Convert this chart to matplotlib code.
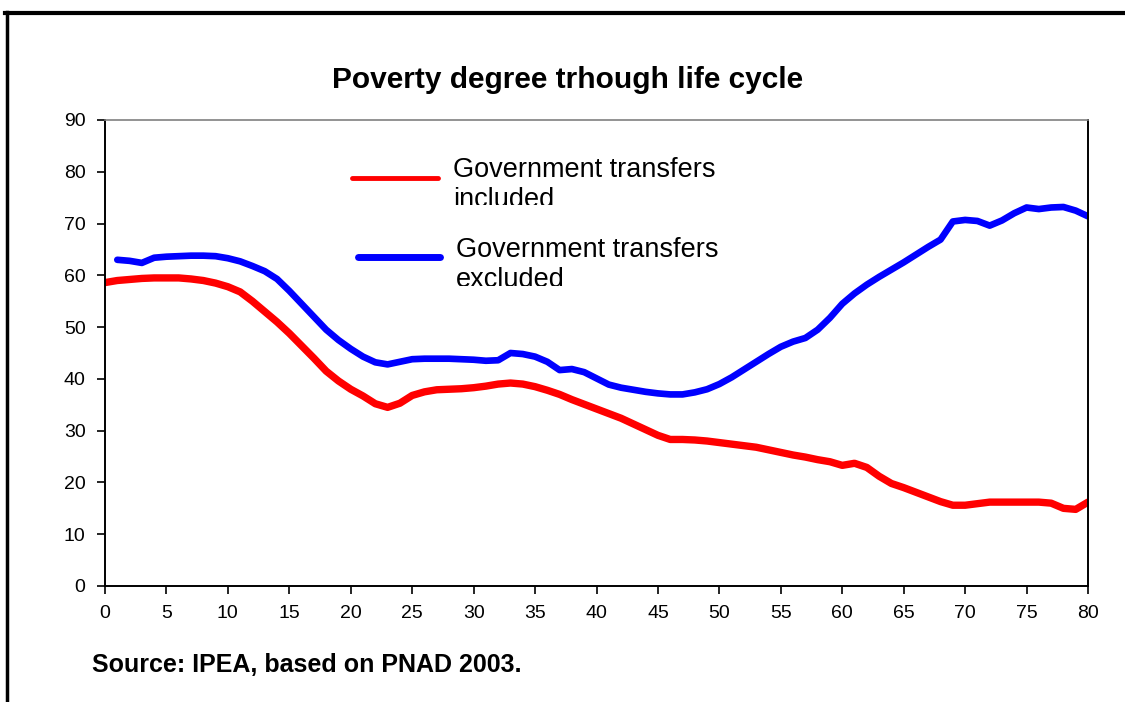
import matplotlib
matplotlib.use("Agg")
import matplotlib.pyplot as plt
from matplotlib.lines import Line2D
from matplotlib.transforms import Bbox, TransformedBbox

plt.rcParams['font.family'] = ['Liberation Sans', 'DejaVu Sans']

title = "Poverty degree trhough life cycle"
source = "Source: IPEA, based on PNAD 2003."
label_incl = ["Government transfers", "included"]
label_excl = ["Government transfers", "excluded"]

ages_incl = list(range(0, 81))
incl = [58.6, 59.0, 59.2, 59.4, 59.5, 59.5, 59.5, 59.3, 59.0, 58.5,
        57.8, 56.8, 55.0, 53.0, 51.0, 48.8, 46.4, 44.0, 41.5, 39.6,
        38.0, 36.7, 35.2, 34.5, 35.3, 36.8, 37.5, 37.9, 38.0, 38.1,
        38.3, 38.6, 39.0, 39.2, 39.0, 38.5, 37.8, 37.0, 36.0, 35.1,
        34.2, 33.3, 32.4, 31.3, 30.2, 29.1, 28.3, 28.3, 28.2, 28.0,
        27.7, 27.4, 27.1, 26.8, 26.3, 25.8, 25.3, 24.9, 24.4, 24.0,
        23.3, 23.7, 22.9, 21.2, 19.8, 19.0, 18.1, 17.2, 16.3, 15.6,
        15.6, 15.9, 16.2, 16.2, 16.2, 16.2, 16.2, 16.0, 15.0, 14.8,
        16.2]

ages_excl = list(range(1, 81))
excl = [63.0, 62.8, 62.4, 63.4, 63.6, 63.7, 63.8, 63.8, 63.7,
        63.3, 62.7, 61.8, 60.8, 59.3, 57.0, 54.5, 52.0, 49.5, 47.5,
        45.8, 44.3, 43.2, 42.8, 43.3, 43.8, 43.9, 43.9, 43.9, 43.8,
        43.7, 43.5, 43.6, 45.0, 44.8, 44.3, 43.3, 41.7, 41.9, 41.3,
        40.1, 38.9, 38.3, 37.9, 37.5, 37.2, 37.0, 37.0, 37.4, 38.0,
        39.0, 40.3, 41.8, 43.3, 44.8, 46.2, 47.2, 47.9, 49.5, 51.8,
        54.5, 56.5, 58.2, 59.7, 61.1, 62.5, 64.0, 65.5, 66.9, 70.4,
        70.7, 70.5, 69.6, 70.6, 72.0, 73.1, 72.8, 73.1, 73.2, 72.5,
        71.4]

xticks = list(range(0, 81, 5))
yticks = list(range(0, 91, 10))

W, H = 1125, 702
fig = plt.figure(figsize=(W / 100, H / 100), dpi=100)
ax = fig.add_axes([105 / W, 1 - 586 / H, (1088 - 105) / W, (586 - 120) / H])

ax.plot(ages_incl, incl, color='#ff0000', lw=5.3, solid_capstyle='round', solid_joinstyle='round')
ax.plot(ages_excl, excl, color='#0000ff', lw=4.8, solid_capstyle='round', solid_joinstyle='round')

ax.set_xlim(0, 80)
ax.set_ylim(0, 90)
ax.set_xticks(xticks)
ax.set_yticks(yticks)
ax.tick_params(axis='both', direction='out', length=6, width=1.2, labelsize=14, colors='black', pad=8)
for side in ['left', 'bottom', 'right']:
    ax.spines[side].set_color('black')
    ax.spines[side].set_linewidth(1.4)
ax.spines['top'].set_color('#808080')
ax.spines['top'].set_linewidth(1.2)

fig.text(568 / W, 1 - 88 / H, title, ha='center', va='baseline', fontsize=21.5, fontweight='bold')
fig.text(92 / W, 1 - 672 / H, source, ha='left', va='baseline', fontsize=18, fontweight='bold')

# legend lines
fig.add_artist(Line2D([352 / W, 438 / W], [1 - 178 / H, 1 - 178 / H], color='#ff0000', lw=3.5, solid_capstyle='round'))
fig.add_artist(Line2D([358 / W, 440 / W], [1 - 257 / H, 1 - 257 / H], color='#0000ff', lw=5.0, solid_capstyle='round'))


def legend_text(x, y0, lines, clip_y):
    fig.text(x / W, 1 - y0 / H, lines[0], ha='left', va='baseline', fontsize=19.5)
    t = fig.text(x / W, 1 - (y0 + 30) / H, lines[1], ha='left', va='baseline', fontsize=19.5)
    t.set_clip_box(TransformedBbox(Bbox([[0, 1 - clip_y / H], [1, 1]]), fig.transFigure))
    t.set_clip_on(True)


legend_text(453, 177, label_incl, 205)
legend_text(456, 257, label_excl, 286)

# outer frame
fig.add_artist(Line2D([5 / W, 1.0], [1 - 13 / H, 1 - 13 / H], color='black', lw=3.0))
fig.add_artist(Line2D([7 / W, 7 / W], [0, 1 - 12 / H], color='black', lw=2.5))

fig.savefig("out.png", dpi=100)
